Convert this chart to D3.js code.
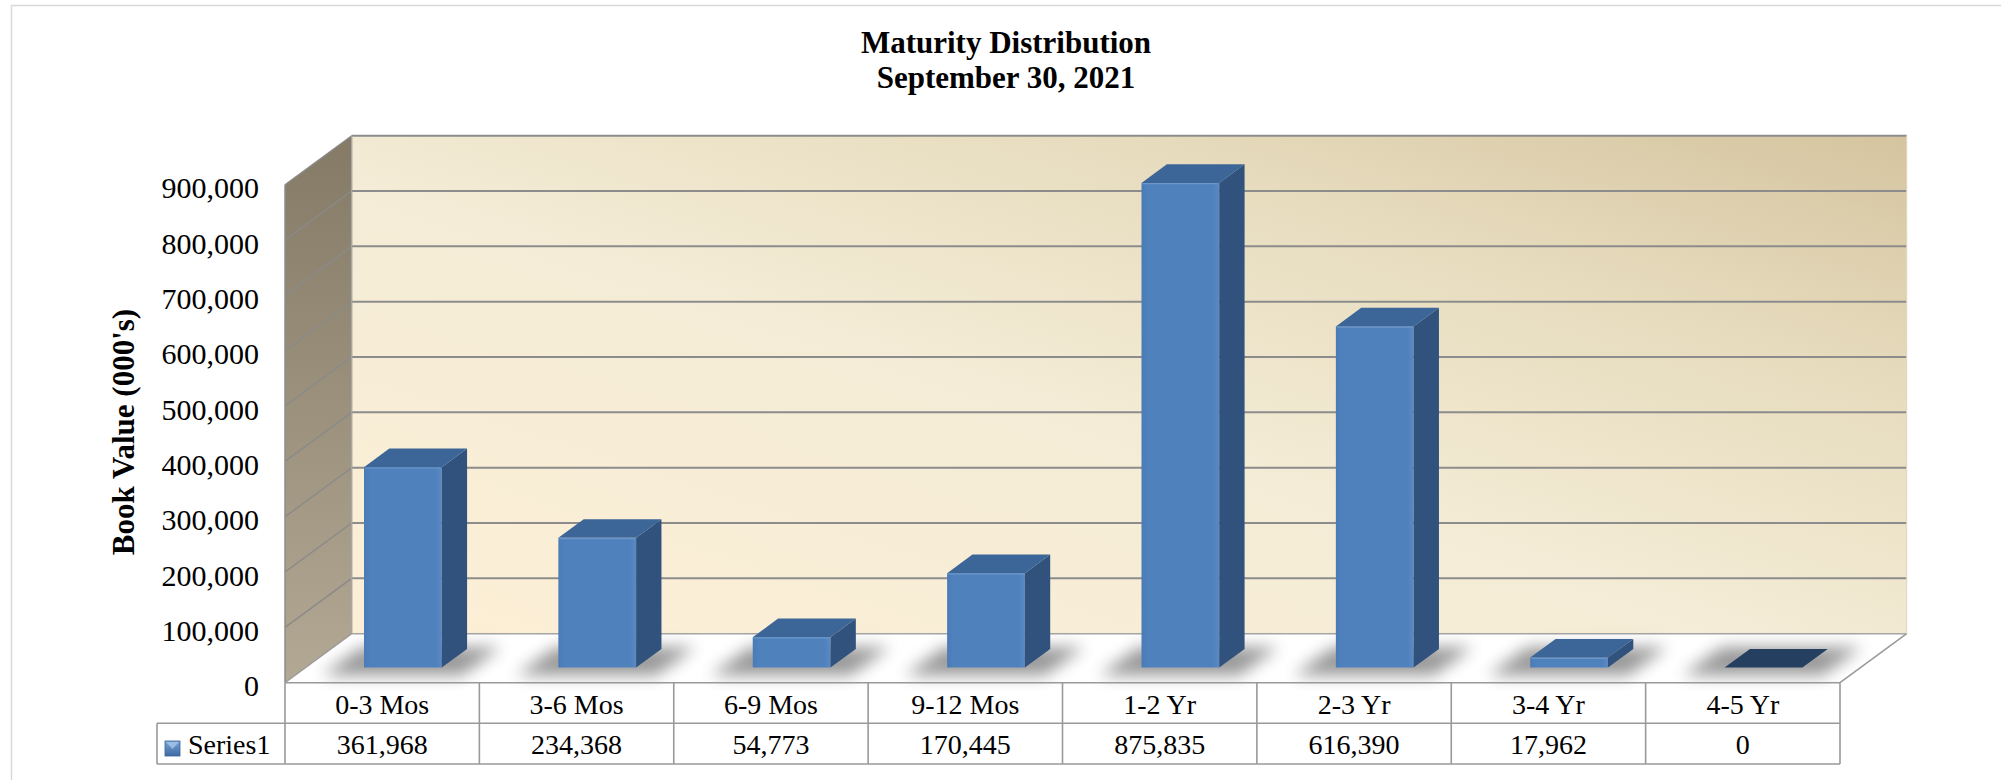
<!DOCTYPE html>
<html>
<head>
<meta charset="utf-8">
<script src="https://cdn.jsdelivr.net/npm/d3@7"></script>
<style>
  html, body { margin: 0; padding: 0; background: #ffffff; }
  svg { display: block; }
  text { font-family: "Liberation Serif", "Times New Roman", serif; fill: #000; }
</style>
</head>
<body>
<svg id="chart" width="2001" height="780"></svg>
<script>
// ---- data ----
const categories = ["0-3 Mos", "3-6 Mos", "6-9 Mos", "9-12 Mos", "1-2 Yr", "2-3 Yr", "3-4 Yr", "4-5 Yr"];
const values = [361968, 234368, 54773, 170445, 875835, 616390, 17962, 0];
const seriesName = "Series1";
const yTicks = [0, 100000, 200000, 300000, 400000, 500000, 600000, 700000, 800000, 900000];
const titleLines = ["Maturity Distribution", "September 30, 2021"];
const yTitle = "Book Value (000's)";

// ---- layout ----
const svg = d3.select("#chart");
const defs = svg.append("defs");

const frontLeft = 285, frontRight = 1840;
const floorFrontY = 682.7;
const DX = 66.7, DY = -49;          // depth offset (front -> back)
const plotH = 498;
const f1 = 0.31, f2 = 0.69;         // bar depth positions

const x = d3.scaleBand().domain(categories).range([frontLeft, frontRight])
  .paddingInner(0.6).paddingOuter(0.3);
const step = x.step();
const hScale = d3.scaleLinear().domain([0, 900000]).range([0, plotH]);
const yFront = v => floorFrontY - hScale(v);
const yBack = v => floorFrontY + DY - hScale(v);
const fmt = d3.format(",");

// outer border
svg.append("rect").attr("x", 11.5).attr("y", 5.5).attr("width", 2100).attr("height", 900)
  .attr("fill", "none").attr("stroke", "#d9d9d9").attr("stroke-width", 1.5);

// gradients
const gBack = defs.append("linearGradient").attr("id", "backGrad")
  .attr("x1", "0").attr("y1", "1").attr("x2", "1").attr("y2", "0");
gBack.append("stop").attr("offset", "0").attr("stop-color", "#fdefd6");
gBack.append("stop").attr("offset", "0.45").attr("stop-color", "#f4ecd6");
gBack.append("stop").attr("offset", "0.75").attr("stop-color", "#e6dbbd");
gBack.append("stop").attr("offset", "1").attr("stop-color", "#d5c49f");

const gSide = defs.append("linearGradient").attr("id", "sideGrad")
  .attr("x1", "0").attr("y1", "0").attr("x2", "0").attr("y2", "1");
gSide.append("stop").attr("offset", "0").attr("stop-color", "#847a66");
gSide.append("stop").attr("offset", "1").attr("stop-color", "#b2a893");

const gFront = defs.append("linearGradient").attr("id", "frontGrad")
  .attr("x1", "0").attr("y1", "0").attr("x2", "1").attr("y2", "0");
gFront.append("stop").attr("offset", "0").attr("stop-color", "#4a7bb7");
gFront.append("stop").attr("offset", "0.08").attr("stop-color", "#4f81bd");
gFront.append("stop").attr("offset", "0.92").attr("stop-color", "#4f81bd");
gFront.append("stop").attr("offset", "1").attr("stop-color", "#5a8ac4");

const gKey = defs.append("linearGradient").attr("id", "keyGrad")
  .attr("x1", "0").attr("y1", "0").attr("x2", "0").attr("y2", "1");
gKey.append("stop").attr("offset", "0").attr("stop-color", "#7aa3d6");
gKey.append("stop").attr("offset", "1").attr("stop-color", "#3d6aa3");

const blur = defs.append("filter").attr("id", "shadowBlur")
  .attr("x", "-50%").attr("y", "-100%").attr("width", "200%").attr("height", "300%");
blur.append("feGaussianBlur").attr("stdDeviation", 8);

const line = d3.line();

// back wall
const backTop = yBack(900000), backBottom = yBack(0);
svg.append("path")
  .attr("d", line([[frontLeft + DX, backTop], [frontRight + DX, backTop], [frontRight + DX, backBottom], [frontLeft + DX, backBottom]]) + "Z")
  .attr("fill", "url(#backGrad)");

// side wall
svg.append("path")
  .attr("d", line([[frontLeft, yFront(900000)], [frontLeft + DX, backTop], [frontLeft + DX, backBottom], [frontLeft, yFront(0)]]) + "Z")
  .attr("fill", "url(#sideGrad)");

// floor
svg.append("path")
  .attr("d", line([[frontLeft, floorFrontY], [frontLeft + DX, backBottom], [frontRight + DX, backBottom], [frontRight, floorFrontY]]) + "Z")
  .attr("fill", "#ffffff");

// gridlines (back wall + side wall)
const gridG = svg.append("g");
yTicks.filter(v => v > 0).forEach(v => {
  gridG.append("line").attr("x1", frontLeft + DX).attr("x2", frontRight + DX)
    .attr("y1", yBack(v)).attr("y2", yBack(v))
    .attr("stroke", "#8c8c8c").attr("stroke-width", 2);
  gridG.append("line").attr("x1", frontLeft).attr("x2", frontLeft + DX)
    .attr("y1", yFront(v)).attr("y2", yBack(v))
    .attr("stroke", "#8a8a8a").attr("stroke-width", 1.4);
});
// wall edges
gridG.append("path")
  .attr("d", line([[frontLeft, yFront(0)], [frontLeft, yFront(900000)]]))
  .attr("stroke", "#8c8c8c").attr("stroke-width", 1.5).attr("fill", "none");
gridG.append("path")
  .attr("d", line([[frontLeft + DX, backTop], [frontLeft + DX, backBottom], [frontRight + DX, backBottom]]))
  .attr("stroke", "#a6a6a6").attr("stroke-width", 1.5).attr("fill", "none");
gridG.append("path")
  .attr("d", line([[frontLeft, floorFrontY], [frontLeft + DX, backBottom]]))
  .attr("stroke", "#999").attr("stroke-width", 1.3).attr("fill", "none");
gridG.append("path")
  .attr("d", line([[frontRight, floorFrontY], [frontRight + DX, backBottom]]))
  .attr("stroke", "#999").attr("stroke-width", 1.5).attr("fill", "none");
gridG.append("line").attr("x1", frontRight + DX).attr("x2", frontRight + DX)
  .attr("y1", backTop).attr("y2", backBottom).attr("stroke", "#e0d6bd").attr("stroke-width", 1);

// bars
const bw = x.bandwidth();
const ddx = (f2 - f1) * DX, ddy = (f2 - f1) * DY;
const data = categories.map((c, i) => ({ c, v: values[i] }));

// shadows
svg.append("g").selectAll("path").data(data).join("path")
  .attr("d", d => {
    const x0 = x(d.c) + f1 * DX - 42, yb = floorFrontY + f1 * DY + 8;
    const w = bw + 62;
    return line([[x0, yb], [x0 + w, yb], [x0 + w + ddx + 14, yb + ddy - 10], [x0 + ddx + 14, yb + ddy - 10]]) + "Z";
  })
  .attr("fill", "#000").attr("opacity", 0.4).attr("filter", "url(#shadowBlur)");

const barsG = svg.append("g");
data.forEach(d => {
  const x0 = x(d.c) + f1 * DX;
  const yb = floorFrontY + f1 * DY;
  const h = hScale(d.v);
  const yt = yb - h;
  const g = barsG.append("g");
  if (h > 0.5) {
    g.append("rect").attr("x", x0).attr("y", yt).attr("width", bw).attr("height", h)
      .attr("fill", "url(#frontGrad)");
    g.append("path")
      .attr("d", line([[x0 + bw, yb], [x0 + bw, yt], [x0 + bw + ddx, yt + ddy], [x0 + bw + ddx, yb + ddy]]) + "Z")
      .attr("fill", "#30527c");
    g.append("path")
      .attr("d", line([[x0, yt], [x0 + bw, yt], [x0 + bw + ddx, yt + ddy], [x0 + ddx, yt + ddy]]) + "Z")
      .attr("fill", "#3c6697");
    g.append("line").attr("x1", x0 + 1).attr("x2", x0 + bw - 1).attr("y1", yt + 0.8).attr("y2", yt + 0.8)
      .attr("stroke", "#6b97cc").attr("stroke-width", 1.2);
  } else {
    g.append("path")
      .attr("d", line([[x0, yt], [x0 + bw, yt], [x0 + bw + ddx, yt + ddy], [x0 + ddx, yt + ddy]]) + "Z")
      .attr("fill", "#243f60");
  }
});

// y axis labels
svg.append("g").selectAll("text").data(yTicks).join("text")
  .attr("x", 259).attr("y", v => yFront(v) + 3)
  .attr("text-anchor", "end").attr("dominant-baseline", "central")
  .style("font-size", "30px")
  .text(v => fmt(v));

// y title
svg.append("text")
  .attr("transform", "translate(123,432) rotate(-90)")
  .attr("text-anchor", "middle").attr("dominant-baseline", "central")
  .style("font-size", "31px").style("font-weight", "bold")
  .text(yTitle);

// title
svg.append("g").selectAll("text").data(titleLines).join("text")
  .attr("x", 1006).attr("y", (d, i) => 42 + i * 35)
  .attr("text-anchor", "middle").attr("dominant-baseline", "central")
  .style("font-size", "31px").style("font-weight", "bold")
  .text(d => d);

// data table
const tbl = svg.append("g");
const rowTop = floorFrontY, rowMid = 723.3, rowBot = 764;
const legendLeft = 157;
const st = { stroke: "#999", "stroke-width": 1.6 };
function tl(x1, y1, x2, y2) {
  const l = tbl.append("line").attr("x1", x1).attr("y1", y1).attr("x2", x2).attr("y2", y2);
  Object.entries(st).forEach(([k, v]) => l.attr(k, v));
}
tl(frontLeft, rowTop, frontRight, rowTop);
tl(legendLeft, rowMid, frontRight, rowMid);
tl(legendLeft, rowBot, frontRight, rowBot);
tl(legendLeft, rowMid, legendLeft, rowBot);
const colEdges = d3.range(categories.length + 1).map(i => frontLeft + i * step);
colEdges.forEach(cx => tl(cx, rowTop, cx, rowBot));

tbl.selectAll("text.cat").data(categories).join("text").attr("class", "cat")
  .attr("x", c => x(c) + bw / 2).attr("y", (rowTop + rowMid) / 2 + 1)
  .attr("text-anchor", "middle").attr("dominant-baseline", "central")
  .style("font-size", "28px").text(c => c);
tbl.selectAll("text.val").data(data).join("text").attr("class", "val")
  .attr("x", d => x(d.c) + bw / 2).attr("y", (rowMid + rowBot) / 2 + 1)
  .attr("text-anchor", "middle").attr("dominant-baseline", "central")
  .style("font-size", "28px").text(d => fmt(d.v));

// legend key
tbl.append("rect").attr("x", 165).attr("y", 741).attr("width", 15).attr("height", 15)
  .attr("fill", "url(#keyGrad)").attr("stroke", "#3a6298").attr("stroke-width", 0.8);
tbl.append("path").attr("d", line([[166, 742], [179, 742], [172.5, 749]]) + "Z").attr("fill", "#a9c6ea").attr("opacity", 0.8);
tbl.append("text").attr("x", 188).attr("y", (rowMid + rowBot) / 2 + 1)
  .attr("dominant-baseline", "central").style("font-size", "28px").text(seriesName);
</script>
</body>
</html>
